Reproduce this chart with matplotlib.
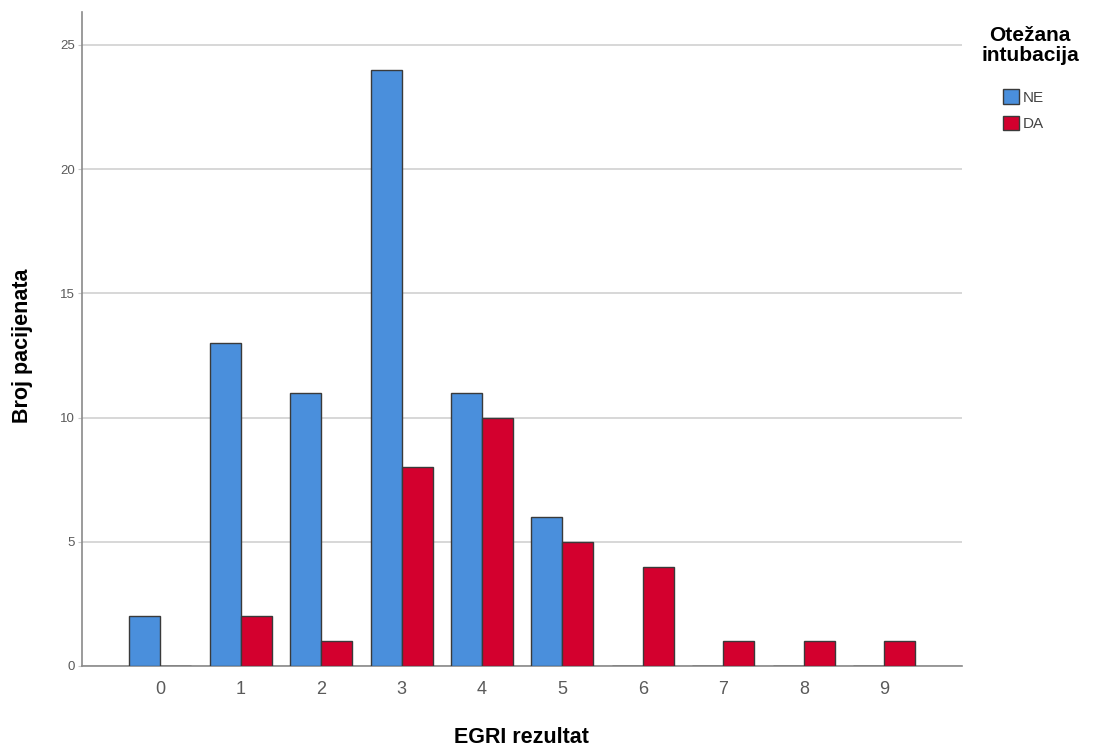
import numpy as np
import matplotlib
matplotlib.use("Agg")
import matplotlib.pyplot as plt
from matplotlib.patches import Patch

plt.rcParams["font.family"] = ["Liberation Sans", "DejaVu Sans"]

# Data
scores = [0, 1, 2, 3, 4, 5, 6, 7, 8, 9]
ne_counts = [2, 13, 11, 24, 11, 6, 0, 0, 0, 0]
da_counts = [0, 2, 1, 8, 10, 5, 4, 1, 1, 1]
series_names = ["NE", "DA"]

blue = "#4A8FDC"
red = "#D3002E"
edge = "#3a3a3a"

fig = plt.figure(figsize=(10.94, 7.51), dpi=100)
ax = fig.add_axes([0.075, 0.1132, 0.804, 0.871])

x = np.arange(len(scores))
w = 0.385
ax.bar(x - w / 2, ne_counts, width=w, color=blue, edgecolor=edge, linewidth=1.0, zorder=3)
ax.bar(x + w / 2, da_counts, width=w, color=red, edgecolor=edge, linewidth=1.0, zorder=3)

ax.set_xlim(-0.97, 9.96)
ax.set_ylim(0, 26.33)
ax.set_yticks([0, 5, 10, 15, 20, 25])
ax.set_xticks(x)
ax.set_xticklabels([str(s) for s in scores])
ax.grid(axis="y", color="#d4d4d4", linewidth=1.3, zorder=0)
ax.set_axisbelow(True)

for s in ["top", "right"]:
    ax.spines[s].set_visible(False)
for s in ["left", "bottom"]:
    ax.spines[s].set_color("#8a8a8a")
    ax.spines[s].set_linewidth(1.2)

ax.tick_params(axis="y", labelsize=9.5, colors="#5a5a5a", length=3, color="#c8c8c8", pad=2)
ax.tick_params(axis="x", labelsize=13, colors="#5a5a5a", length=0, pad=11)

ax.set_ylabel("Broj pacijenata", fontsize=15.5, fontweight="bold")
ax.yaxis.set_label_coords(-0.056, 0.49)
ax.set_xlabel("EGRI rezultat", fontsize=15.5, fontweight="bold", va="top")
ax.xaxis.set_label_coords(0.5, -0.094)

# legend title
fig.text(0.9415, 0.966, "Otežana\nintubacija", ha="center", va="top",
         fontsize=15, fontweight="bold", linespacing=1.08)

handles = [Patch(facecolor=blue, edgecolor=edge), Patch(facecolor=red, edgecolor=edge)]
leg = fig.legend(handles, series_names, loc="upper left",
                 bbox_to_anchor=(0.917, 0.881), frameon=False,
                 fontsize=11, handlelength=1.05, handleheight=1.05,
                 handletextpad=0.2, labelspacing=0.75, borderaxespad=0, borderpad=0)
for t in leg.get_texts():
    t.set_color("#444444")

fig.savefig("out.png", dpi=100)
